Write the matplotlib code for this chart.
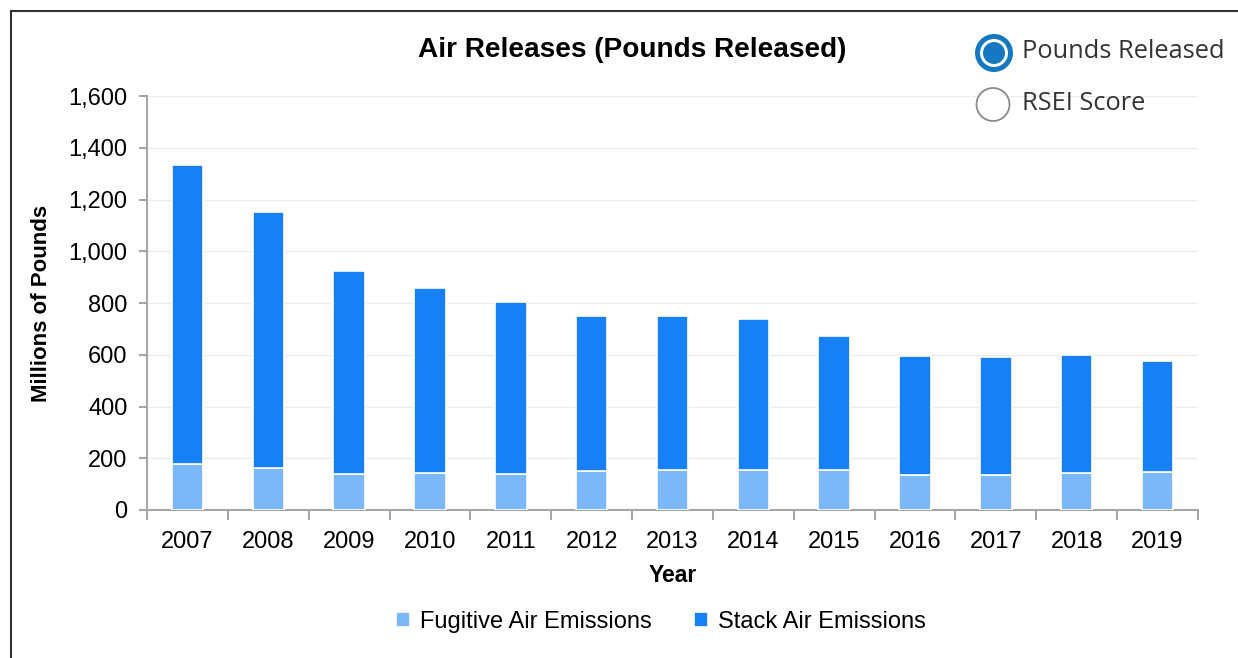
import numpy as np
import matplotlib.pyplot as plt
from matplotlib.patches import Circle, Rectangle

plt.rcParams['font.family'] = ['Liberation Sans', 'DejaVu Sans']

years = ['2007', '2008', '2009', '2010', '2011', '2012', '2013',
         '2014', '2015', '2016', '2017', '2018', '2019']
fugitive = [178, 162, 139, 144, 139, 150, 153, 155, 155, 136, 136, 144, 147]
total = [1335, 1152, 924, 858, 804, 750, 750, 738, 672, 595, 591, 599, 576]
stack = [t - f for t, f in zip(total, fugitive)]

c_fug = '#7ab8fa'
c_stack = '#1880f6'

fig = plt.figure(figsize=(12.38, 6.58), dpi=100)
W, H = 1238, 658
ax = fig.add_axes([147 / W, 1 - 510 / H, (1198 - 147) / W, (510 - 96) / H])

x = np.arange(len(years))
ax.bar(x, fugitive, width=0.39, color=c_fug, edgecolor='white', linewidth=1.2,
       label='Fugitive Air Emissions', zorder=3)
ax.bar(x, stack, bottom=fugitive, width=0.39, color=c_stack, edgecolor='white',
       linewidth=1.2, label='Stack Air Emissions', zorder=3)

ax.set_xlim(-0.5, len(years) - 0.5)
ax.set_ylim(0, 1600)
ax.set_yticks(range(0, 1601, 200))
ax.set_yticklabels([f'{v:,}' for v in range(0, 1601, 200)], fontsize=17)
ax.set_xticks(x)
ax.set_xticklabels(years, fontsize=17)
ax.set_xticks(np.arange(-0.5, len(years)), minor=True)
ax.tick_params(axis='x', which='major', length=0, pad=15)
ax.tick_params(axis='x', which='minor', length=7, color='#a6a6a6', width=1.5)
ax.tick_params(axis='y', length=6, color='#a6a6a6', width=1.5, pad=8)
ax.grid(axis='y', color='#ececec', linewidth=1, zorder=0)
for s in ['top', 'right']:
    ax.spines[s].set_visible(False)
for s in ['left', 'bottom']:
    ax.spines[s].set_color('#a6a6a6')
    ax.spines[s].set_linewidth(1.5)

ax.set_xlabel('Year', fontsize=16.5, fontweight='bold', labelpad=8)
ax.set_ylabel('Millions of Pounds', fontsize=16, fontweight='bold', labelpad=12)
fig.text(632 / W, 1 - 50 / H, 'Air Releases (Pounds Released)', fontsize=20.2,
         fontweight='bold', ha='center', va='center')

ax.legend(loc='center', bbox_to_anchor=(661 / W, 1 - 622 / H),
          bbox_transform=fig.transFigure, ncol=2, frameon=False, fontsize=17,
          handlelength=0.6, handleheight=0.6, handletextpad=0.4,
          columnspacing=1.8)

# frame around the chart
fig.patches.append(Rectangle((11 / W, -0.1), 1.2, 1 - 11 / H + 0.1,
                             transform=fig.transFigure, fill=False,
                             edgecolor='#333333', linewidth=1.5))

# radio buttons
ov = fig.add_axes([0, 0, 1, 1], zorder=10)
ov.set_xlim(0, W)
ov.set_ylim(H, 0)
ov.axis('off')
ov.add_patch(Circle((994, 53), 16.5, facecolor='white', edgecolor='#1479c0', linewidth=3.6))
ov.add_patch(Circle((994, 53), 11, facecolor='#1479c0', edgecolor='none'))
ov.add_patch(Circle((993, 104.5), 16.5, facecolor='white', edgecolor='#8a8a8a', linewidth=1.3))
ov.text(1022, 52, 'Pounds Released', fontsize=18.3, color='#333333', va='center',
        family=['Open Sans', 'DejaVu Sans'])
ov.text(1022, 104, 'RSEI Score', fontsize=18.3, color='#333333', va='center',
        family=['Open Sans', 'DejaVu Sans'])

fig.savefig('out.png', dpi=100)
